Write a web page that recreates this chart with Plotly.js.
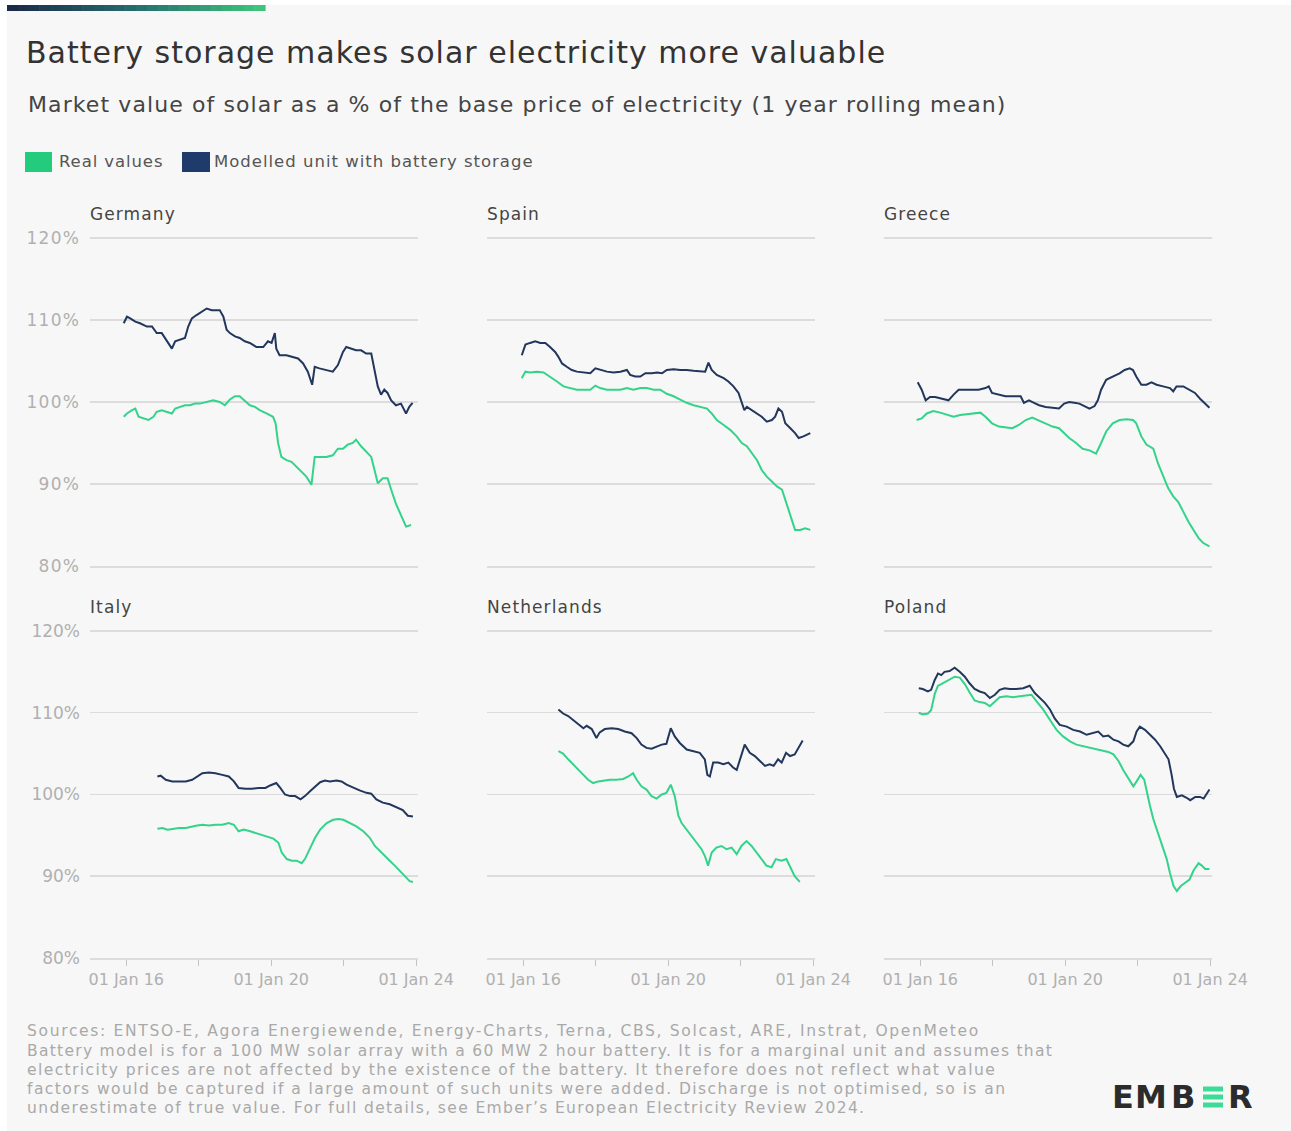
<!DOCTYPE html>
<html><head><meta charset="utf-8">
<script src="https://cdn.plot.ly/plotly-3.0.1.min.js"></script>
<style>html,body{margin:0;padding:0;background:#fff}#chart{width:1291px;height:1131px}</style>
</head><body><div id="chart"></div>
<script>
// ---------- data ----------
const countries = ['Germany', 'Spain', 'Greece', 'Italy', 'Netherlands', 'Poland'];
const seriesNames = ['Real values', 'Modelled unit with battery storage'];
const yTickVals = [80, 90, 100, 110, 120];
const yTickText = ['80%', '90%', '100%', '110%', '120%'];
const xTickVals = [2016, 2018, 2020, 2022, 2024];
const xTickText = ['01 Jan 16', '', '01 Jan 20', '', '01 Jan 24'];

// Germany
const germanyRealX = [2015.93,2016.02,2016.16,2016.25,2016.34,2016.48,2016.61,2016.75,2016.84,2016.98,2017.12,2017.26,2017.35,2017.48,2017.62,2017.76,2017.90,2018.03,2018.22,2018.40,2018.58,2018.72,2018.86,2019.00,2019.13,2019.27,2019.41,2019.55,2019.68,2019.87,2020.05,2020.12,2020.19,2020.28,2020.42,2020.56,2020.69,2020.83,2020.97,2021.11,2021.17,2021.20,2021.33,2021.52,2021.70,2021.84,2021.98,2022.11,2022.25,2022.34,2022.48,2022.62,2022.76,2022.85,2022.94,2023.08,2023.21,2023.31,2023.44,2023.58,2023.72,2023.86];
const germanyRealY = [98.2,98.6,99.0,99.2,98.2,98.0,97.8,98.2,98.8,99.0,98.8,98.6,99.2,99.4,99.6,99.6,99.8,99.8,100.0,100.2,100.0,99.6,100.3,100.7,100.7,100.2,99.6,99.4,99.0,98.6,98.2,97.4,95.0,93.3,92.9,92.7,92.1,91.5,90.9,89.9,92.1,93.3,93.3,93.3,93.5,94.3,94.3,94.8,95.0,95.4,94.6,93.9,93.3,91.7,90.1,90.7,90.7,89.3,87.6,86.2,84.8,85.0];
const germanyBatteryX = [2015.93,2016.02,2016.11,2016.25,2016.38,2016.57,2016.71,2016.84,2016.98,2017.12,2017.26,2017.35,2017.48,2017.62,2017.71,2017.81,2017.94,2018.08,2018.22,2018.36,2018.58,2018.68,2018.77,2018.86,2019.00,2019.13,2019.27,2019.41,2019.59,2019.78,2019.91,2020.01,2020.10,2020.14,2020.23,2020.42,2020.60,2020.74,2020.88,2021.01,2021.13,2021.20,2021.33,2021.52,2021.70,2021.84,2021.98,2022.07,2022.21,2022.34,2022.48,2022.62,2022.76,2022.85,2022.94,2023.03,2023.12,2023.21,2023.31,2023.44,2023.58,2023.72,2023.81,2023.90];
const germanyBatteryY = [109.6,110.4,110.2,109.8,109.6,109.2,109.2,108.4,108.4,107.4,106.5,107.4,107.6,107.8,109.2,110.2,110.6,111.0,111.4,111.2,111.2,110.4,108.8,108.4,108.0,107.8,107.4,107.2,106.7,106.7,107.4,107.2,108.4,106.5,105.7,105.7,105.5,105.3,104.7,103.7,102.1,104.3,104.1,103.9,103.7,104.5,106.1,106.7,106.5,106.3,106.3,105.9,105.9,103.9,101.9,100.9,101.5,101.1,100.2,99.6,99.8,98.6,99.4,99.9];

// Spain
const spainRealX = [2015.96,2016.06,2016.19,2016.38,2016.56,2016.74,2016.93,2017.11,2017.30,2017.48,2017.66,2017.85,2017.99,2018.12,2018.31,2018.49,2018.68,2018.86,2019.04,2019.23,2019.41,2019.60,2019.78,2019.96,2020.15,2020.33,2020.51,2020.70,2020.88,2021.07,2021.20,2021.34,2021.53,2021.71,2021.89,2022.03,2022.17,2022.31,2022.45,2022.58,2022.72,2022.86,2023.00,2023.14,2023.23,2023.32,2023.41,2023.50,2023.64,2023.78,2023.92];
const spainRealY = [102.9,103.7,103.6,103.7,103.6,103.1,102.5,101.9,101.7,101.5,101.5,101.5,102.0,101.7,101.5,101.5,101.5,101.7,101.5,101.7,101.7,101.5,101.5,101.0,100.7,100.3,99.9,99.6,99.4,99.2,98.6,97.8,97.2,96.6,95.8,95.0,94.6,93.7,92.9,91.7,90.9,90.3,89.7,89.3,88.0,86.8,85.4,84.4,84.4,84.6,84.4];
const spainBatteryX = [2015.96,2016.06,2016.19,2016.33,2016.47,2016.61,2016.74,2016.88,2016.97,2017.07,2017.20,2017.34,2017.48,2017.66,2017.85,2017.99,2018.12,2018.31,2018.49,2018.68,2018.86,2018.95,2019.09,2019.23,2019.37,2019.55,2019.69,2019.83,2019.96,2020.15,2020.33,2020.51,2020.70,2020.88,2021.02,2021.11,2021.20,2021.34,2021.53,2021.66,2021.80,2021.94,2022.03,2022.10,2022.17,2022.31,2022.45,2022.58,2022.72,2022.86,2022.95,2023.04,2023.14,2023.23,2023.37,2023.50,2023.60,2023.73,2023.92];
const spainBatteryY = [105.7,107.0,107.2,107.4,107.2,107.2,106.7,106.1,105.5,104.7,104.3,103.9,103.7,103.6,103.5,104.1,103.9,103.7,103.6,103.7,103.9,103.3,103.1,103.1,103.5,103.5,103.6,103.5,103.9,104.0,103.9,103.9,103.8,103.7,103.7,104.8,103.9,103.3,102.9,102.5,101.9,101.1,100.0,99.0,99.4,99.0,98.6,98.2,97.6,97.8,98.2,99.2,98.8,97.4,96.8,96.2,95.6,95.8,96.2];

// Greece
const greeceRealX = [2015.90,2016.04,2016.18,2016.36,2016.55,2016.73,2016.92,2017.10,2017.29,2017.47,2017.66,2017.80,2017.98,2018.17,2018.35,2018.54,2018.72,2018.91,2019.09,2019.28,2019.46,2019.65,2019.83,2019.97,2020.11,2020.30,2020.48,2020.67,2020.85,2020.99,2021.13,2021.31,2021.50,2021.69,2021.87,2021.96,2022.10,2022.24,2022.43,2022.56,2022.70,2022.84,2022.98,2023.12,2023.26,2023.40,2023.54,2023.68,2023.81,2023.98];
const greeceRealY = [97.8,98.0,98.6,98.9,98.7,98.5,98.2,98.4,98.5,98.6,98.7,98.2,97.4,97.0,96.9,96.8,97.2,97.8,98.1,97.7,97.4,97.0,96.8,96.2,95.6,95.0,94.3,94.1,93.7,95.0,96.4,97.4,97.8,97.9,97.8,97.4,95.8,94.8,94.3,92.5,90.9,89.5,88.5,87.8,86.6,85.4,84.4,83.4,82.8,82.4];
const greeceBatteryX = [2015.93,2016.04,2016.15,2016.27,2016.41,2016.59,2016.78,2016.92,2017.06,2017.24,2017.43,2017.61,2017.80,2017.89,2017.98,2018.17,2018.35,2018.54,2018.77,2018.86,2019.00,2019.14,2019.28,2019.46,2019.65,2019.83,2019.97,2020.11,2020.25,2020.39,2020.53,2020.67,2020.81,2020.90,2020.99,2021.13,2021.31,2021.50,2021.64,2021.78,2021.87,2021.96,2022.10,2022.24,2022.38,2022.52,2022.70,2022.89,2022.98,2023.07,2023.26,2023.44,2023.58,2023.72,2023.86,2023.98];
const greeceBatteryY = [102.4,101.5,100.2,100.6,100.6,100.4,100.2,100.9,101.5,101.5,101.5,101.5,101.7,101.9,101.1,100.9,100.7,100.7,100.7,99.9,100.2,99.9,99.6,99.4,99.3,99.2,99.8,100.0,99.9,99.8,99.5,99.2,99.5,100.2,101.5,102.7,103.1,103.5,103.9,104.1,103.9,103.1,102.1,102.1,102.4,102.1,101.9,101.7,101.3,101.9,101.9,101.5,101.1,100.4,99.8,99.3];

// Italy
const italyRealX = [2016.86,2017.00,2017.14,2017.27,2017.46,2017.64,2017.82,2017.96,2018.10,2018.28,2018.46,2018.65,2018.83,2018.97,2019.10,2019.24,2019.42,2019.56,2019.70,2019.88,2020.06,2020.20,2020.29,2020.43,2020.57,2020.70,2020.84,2020.93,2021.07,2021.21,2021.35,2021.53,2021.71,2021.85,2021.99,2022.17,2022.35,2022.54,2022.72,2022.86,2022.99,2023.13,2023.27,2023.41,2023.54,2023.68,2023.82,2023.91];
const italyRealY = [95.8,95.9,95.7,95.8,95.9,95.9,96.1,96.2,96.3,96.2,96.3,96.3,96.5,96.3,95.5,95.7,95.5,95.3,95.1,94.9,94.6,94.1,92.9,92.1,91.9,91.9,91.6,92.1,93.5,94.7,95.7,96.5,96.9,97.0,96.9,96.5,96.1,95.5,94.7,93.7,93.1,92.5,91.9,91.3,90.7,90.0,89.4,89.3];
const italyBatteryX = [2016.86,2016.95,2017.09,2017.27,2017.46,2017.64,2017.82,2017.96,2018.10,2018.28,2018.46,2018.65,2018.83,2018.97,2019.10,2019.29,2019.47,2019.65,2019.84,2019.97,2020.14,2020.25,2020.38,2020.52,2020.66,2020.81,2020.93,2021.07,2021.21,2021.35,2021.48,2021.62,2021.80,2021.94,2022.08,2022.26,2022.44,2022.63,2022.76,2022.90,2023.08,2023.27,2023.45,2023.63,2023.77,2023.91];
const italyBatteryY = [102.2,102.3,101.8,101.6,101.6,101.6,101.8,102.2,102.6,102.7,102.6,102.4,102.2,101.6,100.8,100.7,100.7,100.8,100.8,101.1,101.4,100.8,100.0,99.8,99.8,99.4,99.8,100.4,101.0,101.5,101.7,101.6,101.7,101.6,101.2,100.8,100.5,100.2,100.1,99.4,99.0,98.8,98.4,98.1,97.4,97.3];

// Netherlands
const netherlandsRealX = [2016.97,2017.10,2017.24,2017.38,2017.52,2017.66,2017.79,2017.93,2018.07,2018.21,2018.39,2018.57,2018.76,2018.90,2019.03,2019.13,2019.26,2019.40,2019.54,2019.68,2019.82,2019.95,2020.07,2020.18,2020.28,2020.37,2020.51,2020.64,2020.78,2020.92,2021.01,2021.10,2021.20,2021.33,2021.47,2021.61,2021.75,2021.89,2022.02,2022.16,2022.30,2022.44,2022.57,2022.71,2022.85,2022.97,2023.13,2023.26,2023.37,2023.49,2023.63];
const netherlandsRealY = [105.3,105.0,104.3,103.7,103.0,102.4,101.8,101.4,101.6,101.7,101.8,101.8,101.9,102.2,102.6,101.8,101.0,100.6,99.8,99.5,100.0,100.2,101.2,99.8,97.4,96.5,95.7,94.9,94.1,93.3,92.5,91.3,92.9,93.5,93.7,93.3,93.5,92.7,93.7,94.3,93.7,92.9,92.1,91.3,91.1,92.1,91.9,92.1,91.1,90.0,89.3];
const netherlandsBatteryX = [2016.97,2017.10,2017.24,2017.38,2017.52,2017.66,2017.75,2017.89,2018.02,2018.11,2018.25,2018.44,2018.62,2018.80,2018.99,2019.13,2019.26,2019.40,2019.54,2019.68,2019.82,2019.95,2020.07,2020.18,2020.32,2020.51,2020.69,2020.87,2021.01,2021.08,2021.15,2021.24,2021.38,2021.52,2021.66,2021.79,2021.89,2022.00,2022.11,2022.25,2022.39,2022.53,2022.67,2022.80,2022.91,2023.03,2023.13,2023.25,2023.36,2023.49,2023.63,2023.71];
const netherlandsBatteryY = [110.4,109.9,109.6,109.1,108.7,108.1,108.4,108.0,106.9,107.6,108.0,108.1,108.0,107.7,107.5,106.9,106.1,105.7,105.6,105.9,106.1,106.2,108.1,107.1,106.3,105.5,105.3,105.1,104.3,102.4,102.2,103.9,103.9,103.7,103.9,103.3,103.0,104.7,106.1,105.1,104.7,104.1,103.5,103.7,103.5,104.3,103.9,105.1,104.7,104.9,105.9,106.6];

// Poland
const polandRealX = [2015.96,2016.07,2016.21,2016.30,2016.40,2016.49,2016.58,2016.67,2016.81,2016.95,2017.09,2017.23,2017.36,2017.50,2017.64,2017.78,2017.92,2018.06,2018.19,2018.38,2018.56,2018.75,2018.93,2019.07,2019.21,2019.39,2019.58,2019.76,2019.94,2020.13,2020.31,2020.50,2020.68,2020.87,2021.05,2021.19,2021.33,2021.47,2021.60,2021.74,2021.88,2021.97,2022.08,2022.18,2022.25,2022.34,2022.43,2022.53,2022.62,2022.71,2022.80,2022.89,2022.99,2023.08,2023.19,2023.31,2023.43,2023.54,2023.68,2023.77,2023.86,2023.98];
const polandRealY = [110.0,109.8,109.9,110.3,112.3,113.3,113.5,113.7,114.1,114.4,114.3,113.5,112.5,111.5,111.3,111.2,110.8,111.4,111.9,112.0,111.9,112.0,112.1,112.2,111.4,110.4,109.1,107.9,107.1,106.5,106.1,105.9,105.7,105.5,105.3,105.2,104.9,104.1,103.0,102.0,101.0,101.6,102.4,101.8,100.2,98.6,97.0,95.7,94.5,93.3,92.1,90.4,88.8,88.2,88.8,89.2,89.6,90.7,91.6,91.3,90.9,90.9];
const polandBatteryX = [2015.96,2016.07,2016.21,2016.30,2016.40,2016.49,2016.58,2016.67,2016.81,2016.95,2017.09,2017.23,2017.36,2017.50,2017.64,2017.78,2017.92,2018.06,2018.19,2018.33,2018.47,2018.65,2018.84,2019.02,2019.16,2019.30,2019.44,2019.58,2019.71,2019.85,2020.04,2020.22,2020.41,2020.59,2020.77,2020.91,2021.05,2021.19,2021.33,2021.47,2021.60,2021.74,2021.88,2021.97,2022.06,2022.20,2022.34,2022.48,2022.62,2022.76,2022.85,2022.94,2023.00,2023.08,2023.22,2023.35,2023.45,2023.59,2023.72,2023.82,2023.91,2023.98];
const polandBatteryY = [113.0,112.9,112.6,112.8,114.0,114.8,114.6,115.0,115.1,115.5,115.0,114.4,113.6,112.9,112.6,112.4,111.8,112.2,112.8,113.0,112.9,112.9,113.0,113.3,112.4,111.8,111.2,110.4,109.3,108.5,108.3,107.9,107.7,107.3,107.5,107.7,107.1,107.2,106.7,106.5,106.1,105.9,106.5,107.7,108.3,107.9,107.3,106.7,105.9,104.9,104.3,102.3,100.7,99.7,99.9,99.6,99.3,99.7,99.7,99.5,100.1,100.6];

const footerLines = [
  'Sources: ENTSO-E, Agora Energiewende, Energy-Charts, Terna, CBS, Solcast, ARE, Instrat, OpenMeteo',
  'Battery model is for a 100 MW solar array with a 60 MW 2 hour battery. It is for a marginal unit and assumes that',
  'electricity prices are not affected by the existence of the battery. It therefore does not reflect what value',
  'factors would be captured if a large amount of such units were added. Discharge is not optimised, so is an',
  'underestimate of true value. For full details, see Ember\u2019s European Electricity Review 2024.'
];

const panelData = [
  [germanyRealX, germanyRealY, germanyBatteryX, germanyBatteryY],
  [spainRealX, spainRealY, spainBatteryX, spainBatteryY],
  [greeceRealX, greeceRealY, greeceBatteryX, greeceBatteryY],
  [italyRealX, italyRealY, italyBatteryX, italyBatteryY],
  [netherlandsRealX, netherlandsRealY, netherlandsBatteryX, netherlandsBatteryY],
  [polandRealX, polandRealY, polandBatteryX, polandBatteryY]
];

// ---------- styling / layout ----------
const W = 1291, H = 1131;
const GREEN = '#33d38b', NAVY = '#22375c';
const fx = p => p / W;
const fy = p => 1 - p / H;
const colLeft = [90, 487, 884], colW = 328;
const rowTop = [235.5, 628.5], rowBottom = [566, 958];
const FONT = '"DejaVu Sans", sans-serif';
const spacing = {}; // annotation index -> letter spacing (px)

const traces = [];
const layout = {
  width: W, height: H,
  margin: {l: 0, r: 0, t: 0, b: 0},
  paper_bgcolor: '#f7f7f7',
  plot_bgcolor: 'rgba(0,0,0,0)',
  showlegend: false,
  font: {family: FONT, color: '#444'},
  title: {
    text: 'Battery storage makes solar electricity more valuable',
    x: fx(26), xanchor: 'left', xref: 'paper',
    y: fy(52), yanchor: 'middle', yref: 'container',
    font: {family: FONT, size: 30, color: '#333'}
  },
  shapes: [], annotations: []
};
function addText(opts, ls) {
  if (ls) spacing[layout.annotations.length] = ls;
  layout.annotations.push(Object.assign({xref: 'paper', yref: 'paper', showarrow: false,
    xanchor: 'left', yanchor: 'middle', align: 'left'}, opts));
}

countries.forEach((name, i) => {
  const r = Math.floor(i / 3), c = i % 3;
  const ax = i === 0 ? '' : String(i + 1);
  const d = panelData[i];
  traces.push({
    type: 'scatter', mode: 'lines', name: seriesNames[0],
    x: d[0], y: d[1], xaxis: 'x' + ax, yaxis: 'y' + ax,
    line: {color: GREEN, width: 2}, hoverinfo: 'skip'
  });
  traces.push({
    type: 'scatter', mode: 'lines', name: seriesNames[1],
    x: d[2], y: d[3], xaxis: 'x' + ax, yaxis: 'y' + ax,
    line: {color: NAVY, width: 2}, hoverinfo: 'skip'
  });
  const bottom = r === 1;
  layout['xaxis' + ax] = {
    domain: [fx(colLeft[c]), fx(colLeft[c] + colW)],
    anchor: 'y' + ax,
    range: [2015.0, 2024.05],
    showgrid: false, zeroline: false,
    showline: true, linecolor: '#dcdcdc', linewidth: 1.5,
    tickmode: 'array', tickvals: xTickVals, ticktext: xTickText,
    ticks: bottom ? 'outside' : '', ticklen: 6, tickcolor: '#c4c4c4', tickwidth: 1,
    showticklabels: bottom,
    tickfont: {family: FONT, size: 16, color: '#b0b0b0'}
  };
  layout['yaxis' + ax] = {
    domain: [fy(rowBottom[r]), fy(rowTop[r])],
    anchor: 'x' + ax,
    range: [80, 120.3],
    showgrid: true, gridcolor: '#dcdcdc', gridwidth: 1.5,
    zeroline: false, showline: false,
    tickmode: 'array', tickvals: yTickVals, ticktext: yTickText,
    ticks: '', showticklabels: c === 0, ticklabelstandoff: 9,
    tickfont: {family: FONT, size: 17, color: '#b0b0b0'}
  };
  // 100% reference line
  layout.shapes.push({
    type: 'line', xref: 'x' + ax + ' domain', yref: 'y' + ax,
    x0: 0, x1: 1, y0: 100, y1: 100,
    line: {color: '#9fb9d0', width: 1}, layer: 'below'
  });
  layout.shapes.push({
    type: 'line', xref: 'x' + ax + ' domain', yref: 'y' + ax,
    x0: 0, x1: 1, y0: 100, y1: 100,
    line: {color: '#4d6f92', width: 1.2, dash: 'dot'}, layer: 'below'
  });
  // panel title
  addText({text: name, x: fx(colLeft[c] - 2), y: fy(r === 0 ? 214 : 607),
    font: {family: FONT, size: 17, color: '#444'}}, 1.1);
});

// top white margin and gradient accent bar
layout.shapes.push({type: 'rect', xref: 'paper', yref: 'paper', x0: 0, x1: 1, y0: fy(0), y1: fy(5),
  fillcolor: '#ffffff', line: {width: 0}, layer: 'below'});
layout.shapes.push({type: 'rect', xref: 'paper', yref: 'paper', x0: 0, x1: fx(7), y0: 0, y1: 1,
  fillcolor: '#ffffff', line: {width: 0}, layer: 'below'});
const barStops = [[27, 42, 74], [38, 110, 110], [62, 196, 124]];
const nSeg = 24;
for (let k = 0; k < nSeg; k++) {
  const t = k / (nSeg - 1);
  let a, b, u;
  if (t < 0.5) { a = barStops[0]; b = barStops[1]; u = t / 0.5; }
  else { a = barStops[1]; b = barStops[2]; u = (t - 0.5) / 0.5; }
  const col = 'rgb(' + a.map((v, j) => Math.round(v + (b[j] - v) * u)).join(',') + ')';
  const x0 = 7 + (265 - 7) * k / nSeg, x1 = 7 + (265 - 7) * (k + 1) / nSeg + 0.6;
  layout.shapes.push({type: 'rect', xref: 'paper', yref: 'paper',
    x0: fx(x0), x1: fx(x1), y0: fy(11), y1: fy(5), fillcolor: col, line: {width: 0}});
}

// subtitle
addText({text: 'Market value of solar as a % of the base price of electricity (1 year rolling mean)',
  x: fx(26), y: fy(104), font: {family: FONT, size: 22, color: '#444'}}, 1.1);

// legend (manual)
layout.shapes.push({type: 'rect', xref: 'paper', yref: 'paper', x0: fx(25), x1: fx(52), y0: fy(172), y1: fy(152),
  fillcolor: '#22cc7c', line: {width: 0}});
layout.shapes.push({type: 'rect', xref: 'paper', yref: 'paper', x0: fx(182), x1: fx(210), y0: fy(172), y1: fy(152),
  fillcolor: '#1f3b6b', line: {width: 0}});
addText({text: seriesNames[0], x: fx(57), y: fy(161), font: {family: FONT, size: 16.5, color: '#555'}}, 0.9);
addText({text: seriesNames[1], x: fx(212), y: fy(161), font: {family: FONT, size: 16.5, color: '#555'}}, 1.0);

// footer
const footerY = [1031, 1051, 1070, 1089, 1108];
const footerSpacing = [1.68, 1.29, 1.42, 1.44, 1.37];
footerLines.forEach((t, k) => {
  addText({text: t, x: fx(25), y: fy(footerY[k]), font: {family: FONT, size: 15.5, color: '#a9a9a9'}}, footerSpacing[k]);
});

// EMBER logo
const logoLetters = [['E', 1123], ['M', 1150.5], ['B', 1182.5], ['R', 1240.5]];
logoLetters.forEach(([ch, x]) => {
  addText({text: ch, x: fx(x), y: fy(1097), xanchor: 'center', align: 'center',
    font: {family: FONT, size: 32, color: '#2b2b2b', weight: 'bold'}});
});
[[1086.5, 1091.5], [1094.5, 1099.5], [1102.5, 1107.5]].forEach(([a, b]) => {
  layout.shapes.push({type: 'rect', xref: 'paper', yref: 'paper', x0: fx(1203), x1: fx(1223),
    y0: fy(b), y1: fy(a), fillcolor: '#3ddb97', line: {width: 0}});
});

Plotly.newPlot('chart', traces, layout, {staticPlot: true, displayModeBar: false}).then(gd => {
  // widen text tracking to match the original typography
  Object.keys(spacing).forEach(k => {
    const t = gd.querySelector('.annotation[data-index="' + k + '"] text');
    if (t) t.style.letterSpacing = spacing[k] + 'px';
  });
  const title = gd.querySelector('.gtitle');
  if (title) title.style.letterSpacing = '1px';
  gd.querySelectorAll('.ytick text').forEach(t => { t.style.letterSpacing = '1.2px'; });
  gd.querySelectorAll('.xtick text').forEach(t => { t.style.letterSpacing = '0.4px'; });
});
</script>
</body></html>
